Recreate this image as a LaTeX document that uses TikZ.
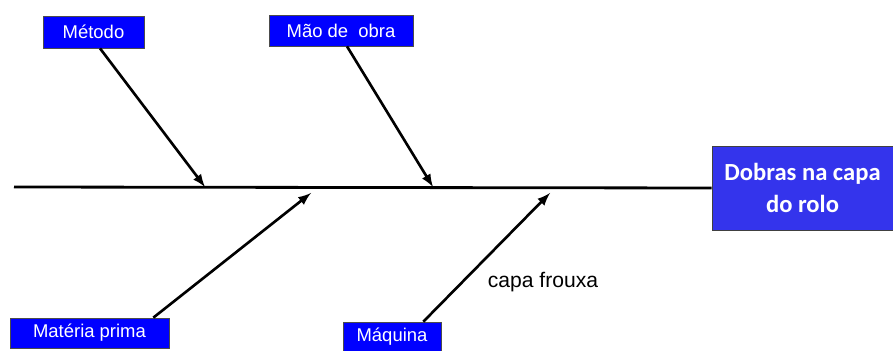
\documentclass[tikz,border=0pt]{standalone}
\usepackage{fontspec}
\setmainfont{Liberation Sans}
\newfontfamily\efeitofont{Carlito}
\usetikzlibrary{
    arrows,
    calc,
    positioning
}
\definecolor{azulefeito}{RGB}{52,52,236}
\tikzset{
    causa/.style={draw=black!70, fill=blue, text=white, inner sep=0pt,
        font=\fontsize{10.5}{12}\selectfont},
    espinha/.style={-latex, line width=1.5pt},
}

\begin{document}
\begin{tikzpicture}[x=0.02cm, y=-0.02cm]
    \useasboundingbox (0, 0) rectangle (893, 351);
    \node[causa, minimum width=2.02cm, minimum height=0.64cm] (metodo) at (93.5, 32) {Método};
    \node[causa, minimum width=2.88cm, minimum height=0.62cm] (mao) at (341, 30.5) {Mão de\ \ obra};
    \node[causa, minimum width=3.18cm, minimum height=0.6cm] (materia) at (89.5, 333) {Matéria prima};
    \node[causa, minimum width=1.96cm, minimum height=0.6cm] (maquina) at (392, 337) {Máquina};
    \node[draw=black!75, fill=azulefeito, text=white, align=center, inner sep=0pt,
        minimum width=3.62cm, minimum height=1.68cm,
        font=\efeitofont\bfseries\fontsize{14}{18.5}\selectfont] (efeito) at (802.5, 188) {Dobras na capa\\do rolo};
    \node[font=\fontsize{12}{14}\selectfont] (frouxa) at (543, 282) {capa frouxa};
    % espinha principal
    \coordinate (cauda) at (14, 187);
    \draw[line width=1.6pt] (cauda) -- (efeito.west);
    \coordinate (p1) at (205, 187);
    \coordinate (p2) at (433, 187);
    \coordinate (p3) at (311, 193);
    \coordinate (p4) at (550, 193);
    \draw[espinha] ($(metodo.south) + (6.5, 0)$) -- (p1);
    \draw[espinha] ($(mao.south) + (6, 0)$) -- (p2);
    \draw[espinha] ($(materia.north east) + (-16, 0)$) -- (p3);
    \draw[espinha] ($(maquina.north east) + (-18, 0)$) -- (p4);
\end{tikzpicture}
\end{document}
